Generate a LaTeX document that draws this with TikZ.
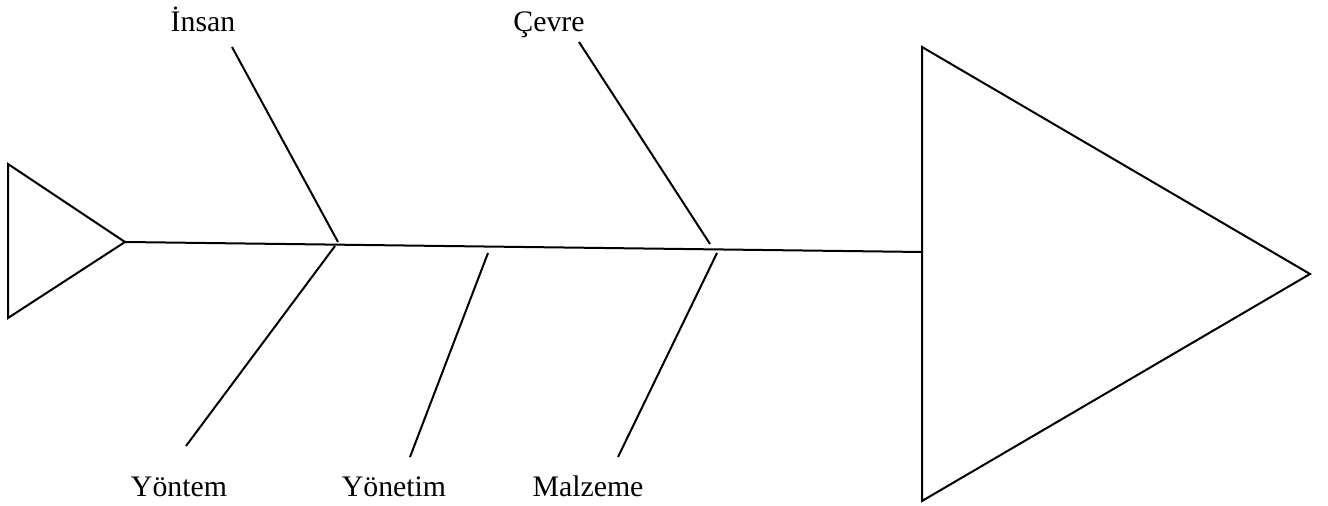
\documentclass[tikz,border=0pt]{standalone}
\usepackage{fontspec}
\setmainfont{Liberation Serif}
\usetikzlibrary{positioning}

\begin{document}
\begin{tikzpicture}[x=0.5pt,y=-0.5pt,line width=1pt,
	lbl/.style={anchor=base,inner sep=0pt,font=\fontsize{14.9}{17}\selectfont}]
		\useasboundingbox (0,0) rectangle (1328,506);
		% tail and head
		\coordinate (T1) at (8,164);
		\coordinate (T2) at (8,318);
		\coordinate (T3) at (125,242);
		\coordinate (H1) at (922,47);
		\coordinate (H2) at (922,501);
		\coordinate (H3) at (1310,274);
		\coordinate (S) at (922,252);
		\draw (T1) -- (T3) -- (T2) -- cycle;
		\draw (H1) -- (H3) -- (H2) -- cycle;
		%
		\coordinate (I1) at (232,47);
		\coordinate (I2) at (338,242);
		\coordinate (Y1) at (335,246);
		\coordinate (Y2) at (186,446);
		\coordinate (N1) at (488,253);
		\coordinate (N2) at (410,457);
		\coordinate (C1) at (579,42);
		\coordinate (C2) at (710,244);
		\coordinate (M1) at (717,253);
		\coordinate (M2) at (618,457);
		%
		\node[lbl] (insan) at (203,32) {İnsan};
		\node[lbl] (cevre) at (549,32) {Çevre};
		\node[lbl] (yontem) at (179,497) {Yöntem};
		\node[lbl] (yonetim) at (394,497) {Yönetim};
		\node[lbl] (malzeme) at (588,497) {Malzeme};
		%
		\path[draw]
		(T3) edge (S)
		(I1) edge (I2)
		(Y1) edge (Y2)
		(N1) edge (N2)
		(C1) edge (C2)
		(M1) edge (M2);
		\end{tikzpicture}
\end{document}
